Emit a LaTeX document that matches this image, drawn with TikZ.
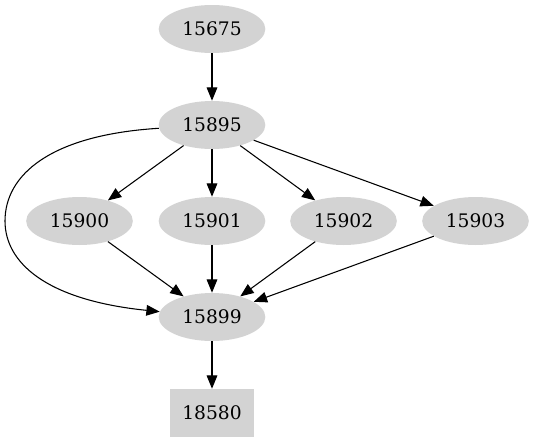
\documentclass[tikz,border=0pt]{standalone}
\usepackage{fontspec}
\setmainfont{DejaVu Serif}
\usepackage{xcolor}
\usetikzlibrary{arrows.meta,shapes}
\definecolor{nodegray}{HTML}{D3D3D3}

\begin{document}
\begin{tikzpicture}[x=0.75pt,y=-0.75pt,
    every node/.style={font=\fontsize{14}{16}\selectfont},
    job/.style={ellipse,fill=nodegray,minimum width=80pt,minimum height=36pt,inner sep=0pt},
    sinkbox/.style={rectangle,fill=nodegray,minimum width=63pt,minimum height=36pt,inner sep=0pt},
    link/.style={-{Triangle[length=10pt,width=8pt]},line width=0.8pt}]
    \useasboundingbox (0,0) rectangle (535,443);
    % Nodes
    \node[job] (n15675) at (212,29) {15675};
    \node[job] (n15895) at (212,125) {15895};
    \node[job] (n15900) at (79.5,221) {15900};
    \node[job] (n15901) at (212,221) {15901};
    \node[job] (n15902) at (343.5,221) {15902};
    \node[job] (n15903) at (475.5,221) {15903};
    \node[job] (n15899) at (212,317) {15899};
    \node[sinkbox] (n18580) at (212,413) {18580};
    % Edges
    \draw[link] (n15675) -- (n15895);
    \draw[link] (n15895) -- (n15900);
    \draw[link] (n15895) -- (n15901);
    \draw[link] (n15895) -- (n15902);
    \draw[link] (n15895) -- (n15903);
    \draw[link] (n15900) -- (n15899);
    \draw[link] (n15901) -- (n15899);
    \draw[link] (n15902) -- (n15899);
    \draw[link] (n15903) -- (n15899);
    \draw[link] (n15899) -- (n18580);
    % Edge round the left side
    \coordinate (bend) at (5,221);
    \draw[link] (n15895) .. controls (50,135) and (5,175) .. (bend)
        .. controls (5,262) and (45,300) .. (n15899);
\end{tikzpicture}
\end{document}
